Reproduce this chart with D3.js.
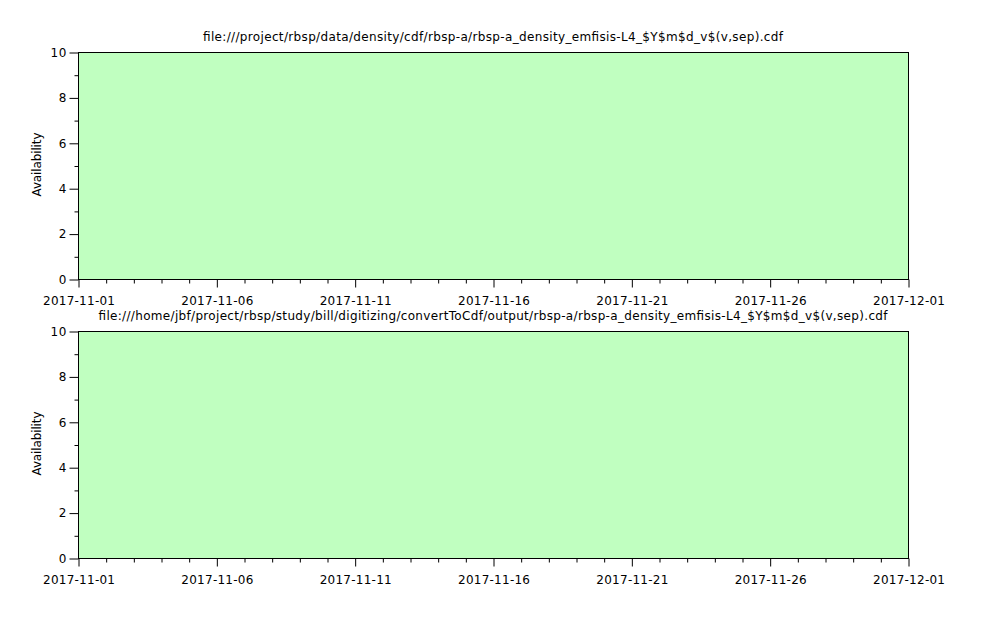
<!DOCTYPE html>
<html><head><meta charset="utf-8">
<script src="https://cdn.jsdelivr.net/npm/d3@7/dist/d3.min.js"></script>
<style>
html,body{margin:0;padding:0;background:#fff;}
svg{display:block;font-family:"DejaVu Sans",sans-serif;}
</style></head>
<body>
<svg id="chart" width="999" height="623"></svg>
<script>
// Data
const titles = [
  "file:///project/rbsp/data/density/cdf/rbsp-a/rbsp-a_density_emfisis-L4_$Y$m$d_v$(v,sep).cdf",
  "file:///home/jbf/project/rbsp/study/bill/digitizing/convertToCdf/output/rbsp-a/rbsp-a_density_emfisis-L4_$Y$m$d_v$(v,sep).cdf"
];
const days = ["2017-11-01","2017-11-02","2017-11-03","2017-11-04","2017-11-05","2017-11-06","2017-11-07","2017-11-08","2017-11-09","2017-11-10",
  "2017-11-11","2017-11-12","2017-11-13","2017-11-14","2017-11-15","2017-11-16","2017-11-17","2017-11-18","2017-11-19","2017-11-20",
  "2017-11-21","2017-11-22","2017-11-23","2017-11-24","2017-11-25","2017-11-26","2017-11-27","2017-11-28","2017-11-29","2017-11-30","2017-12-01"];
const availability1 = [10,10,10,10,10,10,10,10,10,10,10,10,10,10,10,10,10,10,10,10,10,10,10,10,10,10,10,10,10,10,10];
const availability2 = [10,10,10,10,10,10,10,10,10,10,10,10,10,10,10,10,10,10,10,10,10,10,10,10,10,10,10,10,10,10,10];
const xTickLabels = ["2017-11-01","2017-11-06","2017-11-11","2017-11-16","2017-11-21","2017-11-26","2017-12-01"];
const yTicks = [0,2,4,6,8,10];
const yMinorTicks = [1,3,5,7,9];
const yLabel = "Availability";

const svg = d3.select("#chart");
const parse = d3.utcParse("%Y-%m-%d");
const left = 78, right = 908;
const FS = 12;
const panels = [
  {top: 52, bottom: 279, title: titles[0], titleW: 580, values: availability1},
  {top: 331, bottom: 558, title: titles[1], titleW: 789, values: availability2}
];
const x = d3.scaleUtc().domain([parse(days[0]), parse(days[days.length-1])]).range([left, right]);

const measurer = svg.append("text").attr("font-size", FS + "px").attr("x", -1000).attr("y", -1000);
const cache = {};
function charW(c) {
  if (cache[c] === undefined) {
    measurer.text(c === " " ? "\u00a0" : c);
    cache[c] = Math.round(measurer.node().getComputedTextLength());
  }
  return cache[c];
}
function fitText(sel) {
  sel.each(function() {
    const s = this.textContent;
    if (!s) return;
    let w = 0;
    for (const c of s) w += charW(c);
    d3.select(this).attr("textLength", w).attr("lengthAdjust", "spacing");
  });
}

panels.forEach(p => {
  const y = d3.scaleLinear().domain([0,10]).range([p.bottom, p.top]);
  const g = svg.append("g");
  const pts = days.map((d,i) => ({t: parse(d), v: p.values[i]}));
  const area = d3.area().x(d => x(d.t)).y0(y(0)).y1(d => y(d.v)).curve(d3.curveStepAfter);
  g.append("path").datum(pts).attr("d", area).attr("fill", "#c0ffc0");
  g.append("rect").attr("x", left + 0.5).attr("y", p.top + 0.5)
    .attr("width", right - left).attr("height", p.bottom - p.top)
    .attr("fill", "none").attr("stroke", "#000").attr("stroke-width", 1);

  const ya = g.append("g").attr("transform", `translate(${left + 0.5},0.5)`)
    .call(d3.axisLeft(y).tickValues(yTicks).tickSize(9).tickPadding(3).tickFormat(d3.format("d")));
  ya.select(".domain").remove();
  ya.selectAll("text").attr("font-size", FS + "px").attr("font-family", "DejaVu Sans").attr("fill", "#000").call(fitText);
  const ym = g.append("g").attr("transform", `translate(${left + 0.5},0.5)`)
    .call(d3.axisLeft(y).tickValues(yMinorTicks).tickSize(4).tickFormat(""));
  ym.select(".domain").remove();

  const xMajor = xTickLabels.map(parse);
  const xa = g.append("g").attr("transform", `translate(0.5,${p.bottom + 0.5})`)
    .call(d3.axisBottom(x).tickValues(xMajor).tickSize(8).tickPadding(9).tickFormat(d3.utcFormat("%Y-%m-%d")));
  xa.select(".domain").remove();
  xa.selectAll("text").attr("font-size", FS + "px").attr("font-family", "DejaVu Sans").attr("fill", "#000").call(fitText);
  const xMinor = days.map(parse).filter(t => !xMajor.some(m => +m === +t));
  const xm = g.append("g").attr("transform", `translate(0.5,${p.bottom + 0.5})`)
    .call(d3.axisBottom(x).tickValues(xMinor).tickSize(4).tickFormat(""));
  xm.select(".domain").remove();

  g.append("text").attr("x", (left + right) / 2).attr("y", p.top - 11)
    .attr("text-anchor", "middle").attr("font-size", FS + "px").attr("fill", "#000")
    .attr("textLength", p.titleW).attr("lengthAdjust", "spacing")
    .text(p.title);
  g.append("text").attr("transform", `translate(41,${(p.top + p.bottom) / 2 - 1}) rotate(-90)`)
    .attr("text-anchor", "middle").attr("font-size", FS + "px").attr("fill", "#000")
    .text(yLabel).call(fitText);
});
measurer.remove();
</script>
</body></html>
